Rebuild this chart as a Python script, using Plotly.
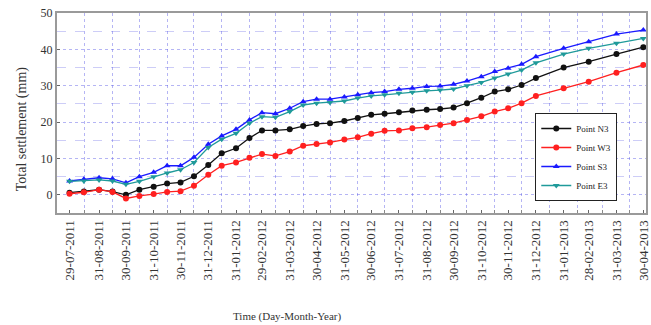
import plotly.graph_objects as go

# Survey dates (semi-monthly through 2012, monthly in 2013)
dates = [
    "2011-07-29", "2011-08-14", "2011-08-31", "2011-09-15", "2011-09-30",
    "2011-10-15", "2011-10-31", "2011-11-15", "2011-11-30", "2011-12-15",
    "2011-12-31", "2012-01-15", "2012-01-31", "2012-02-15", "2012-02-29",
    "2012-03-15", "2012-03-31", "2012-04-15", "2012-04-30", "2012-05-15",
    "2012-05-31", "2012-06-15", "2012-06-30", "2012-07-15", "2012-07-31",
    "2012-08-15", "2012-08-31", "2012-09-15", "2012-09-30", "2012-10-15",
    "2012-10-31", "2012-11-15", "2012-11-30", "2012-12-15", "2012-12-31",
    "2013-01-31", "2013-02-28", "2013-03-31", "2013-04-30",
]

# Total settlement (mm) at each monitoring point
point_n3 = [0.6, 0.9, 1.4, 0.9, 0.0, 1.4, 2.2, 3.1, 3.4, 5.1,
            8.2, 11.4, 12.8, 15.6, 17.7, 17.7, 18.0, 18.9, 19.5, 19.7,
            20.3, 21.1, 22.0, 22.3, 22.7, 23.2, 23.4, 23.6, 24.0, 25.2,
            26.7, 28.4, 29.0, 30.2, 32.1, 35.0, 36.6, 38.7, 40.6]
point_w3 = [0.3, 0.7, 1.4, 0.8, -1.0, -0.3, 0.2, 0.8, 1.0, 2.5,
            5.5, 8.0, 8.9, 10.2, 11.2, 10.7, 11.9, 13.5, 14.0, 14.4,
            15.2, 15.8, 16.8, 17.6, 17.7, 18.3, 18.6, 19.2, 19.7, 20.6,
            21.6, 22.9, 23.8, 25.2, 27.2, 29.3, 31.1, 33.6, 35.7]
point_s3 = [3.8, 4.3, 4.7, 4.4, 3.3, 5.0, 6.2, 8.0, 8.0, 10.3,
            13.9, 16.2, 18.0, 20.6, 22.6, 22.3, 23.8, 25.6, 26.3, 26.3,
            26.9, 27.5, 28.1, 28.4, 29.0, 29.3, 29.8, 29.9, 30.4, 31.3,
            32.5, 33.9, 34.8, 35.9, 38.0, 40.3, 42.1, 44.2, 45.3]
point_e3 = [3.7, 3.8, 4.1, 3.8, 2.9, 3.7, 5.0, 6.0, 6.9, 8.9,
            13.0, 15.3, 16.9, 19.7, 21.5, 21.3, 22.9, 24.7, 25.2, 25.4,
            25.8, 26.6, 27.2, 27.5, 27.9, 28.2, 28.6, 28.8, 29.1, 30.0,
            30.9, 32.1, 33.2, 34.3, 36.3, 38.7, 40.3, 41.7, 43.0]

# Month-end tick dates and their labels
tick_dates = [
    "2011-07-29", "2011-08-31", "2011-09-30", "2011-10-31", "2011-11-30",
    "2011-12-31", "2012-01-31", "2012-02-29", "2012-03-31", "2012-04-30",
    "2012-05-31", "2012-06-30", "2012-07-31", "2012-08-31", "2012-09-30",
    "2012-10-31", "2012-11-30", "2012-12-31", "2013-01-31", "2013-02-28",
    "2013-03-31", "2013-04-30",
]
tick_labels = [d[8:10] + "-" + d[5:7] + "-" + d[0:4] for d in tick_dates]

# Mid-month grid lines
grid_dates = [
    "2011-08-15", "2011-09-15", "2011-10-15", "2011-11-15", "2011-12-15",
    "2012-01-15", "2012-02-15", "2012-03-15", "2012-04-15", "2012-05-15",
    "2012-06-15", "2012-07-15", "2012-08-15", "2012-09-15", "2012-10-15",
    "2012-11-15", "2012-12-15", "2013-01-15", "2013-02-15", "2013-03-15",
    "2013-04-15",
]

series = [
    ("Point N3", point_n3, "#111111", "circle"),
    ("Point W3", point_w3, "#ff2020", "circle"),
    ("Point S3", point_s3, "#1a1aff", "triangle-up"),
    ("Point E3", point_e3, "#1f9a9a", "triangle-down"),
]

fig = go.Figure()
for name, vals, color, symbol in series:
    fig.add_trace(go.Scatter(
        x=dates, y=vals, name=name, mode="lines+markers",
        line=dict(color=color, width=1.3),
        marker=dict(color=color, symbol=symbol, size=6),
    ))

serif = "Liberation Serif"
grid_col = "rgba(90,90,230,0.45)"

fig.update_layout(
    width=651, height=325,
    margin=dict(l=57, r=0, t=13, b=112),
    paper_bgcolor="white", plot_bgcolor="white",
    font=dict(family=serif, color="#333333"),
    showlegend=True,
    legend=dict(
        x=0.812, y=0.5, xanchor="left", yanchor="top",
        bgcolor="white", bordercolor="#222222", borderwidth=1,
        font=dict(family=serif, size=9, color="#222222"),
        itemwidth=30, tracegroupgap=0,
    ),
    xaxis=dict(
        type="date",
        range=["2011-07-15", "2013-05-03"],
        tickmode="array", tickvals=tick_dates, ticktext=tick_labels,
        tickangle=-90, tickfont=dict(family=serif, size=13, color="#333333"),
        ticklabeloverflow="allow",
        ticks="inside", ticklen=3, tickcolor="#666666",
        showgrid=False, zeroline=False,
        showline=True, linecolor="#9a9a9a", linewidth=2, mirror=True,
        minor=dict(tickmode="array", tickvals=grid_dates, showgrid=True,
                   gridcolor=grid_col, griddash="dot", gridwidth=1,
                   ticks="inside", ticklen=3, tickcolor="#888888"),
    ),
    yaxis=dict(
        range=[-5, 50],
        tickmode="array", tickvals=[0, 10, 20, 30, 40, 50],
        tickfont=dict(family=serif, size=12, color="#333333"),
        ticks="inside", ticklen=3, tickcolor="#666666",
        showgrid=True, gridcolor=grid_col, griddash="dot", gridwidth=1,
        zeroline=False,
        showline=True, linecolor="#9a9a9a", linewidth=2, mirror=True,
        minor=dict(tickmode="array", tickvals=[5, 15, 25, 35, 45],
                   showgrid=True, gridcolor="rgba(90,90,230,0.3)",
                   griddash="dash", gridwidth=1),
    ),
    annotations=[
        dict(text="Total settlement (mm)", textangle=-90,
             xref="paper", yref="paper", x=-0.059, y=0.42,
             xanchor="center", yanchor="middle", showarrow=False,
             font=dict(family=serif, size=14, color="#333333")),
        dict(text="Time (Day-Month-Year)",
             xref="paper", yref="paper", x=0.392, y=-0.515,
             xanchor="center", yanchor="middle", showarrow=False,
             font=dict(family=serif, size=11, color="#333333")),
    ],
)

fig.write_html("out.html")
